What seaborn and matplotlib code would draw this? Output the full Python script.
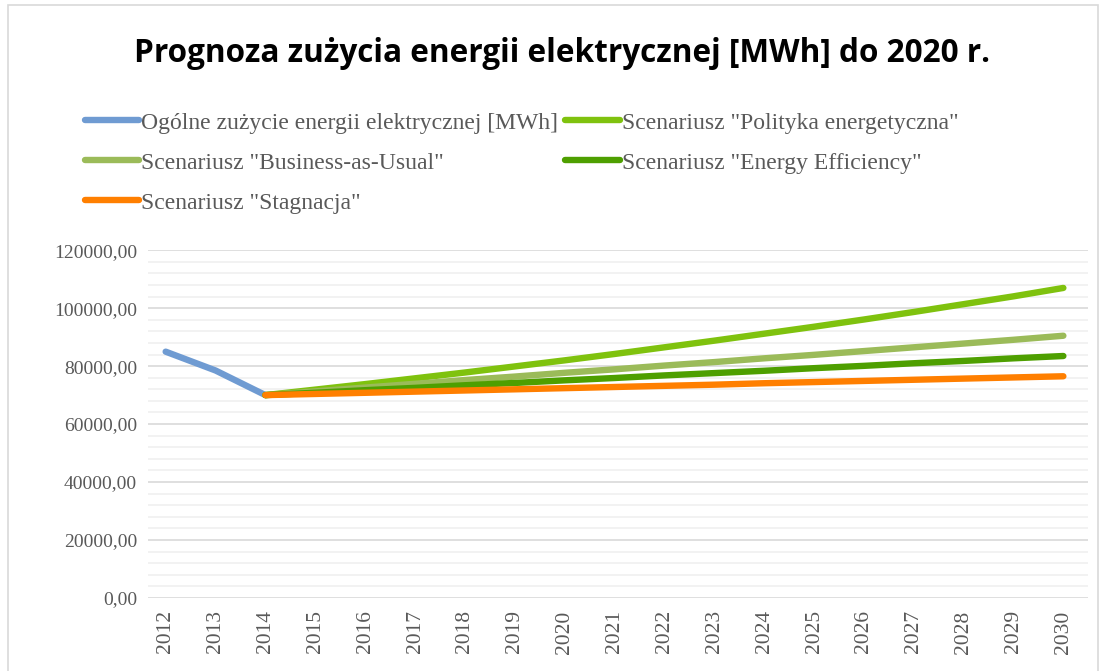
import numpy as np
import pandas as pd
import seaborn as sns
import matplotlib.pyplot as plt
from matplotlib.patches import Rectangle
from matplotlib.ticker import MultipleLocator, FuncFormatter

years = list(range(2012, 2031))
hist_years = [2012, 2013, 2014]
hist_vals = [85000, 78500, 70000]
scen_years = list(range(2014, 2031))
polityka = [70000, 71900, 73800, 75800, 77800, 79900, 82000, 84200, 86500,
            88800, 91200, 93600, 96100, 98700, 101400, 104100, 107000]
bau = [70000, 71300, 72600, 73900, 75200, 76400, 77700, 78900, 80200,
       81400, 82700, 83900, 85200, 86500, 87800, 89100, 90500]
efficiency = [70000, 70800, 71700, 72500, 73400, 74200, 75100, 75900, 76800,
              77600, 78400, 79300, 80100, 81000, 81800, 82700, 83500]
stagnacja = [70000, 70400, 70800, 71200, 71600, 72000, 72400, 72800, 73200,
             73600, 74100, 74500, 74900, 75300, 75700, 76100, 76500]

names = ['Ogólne zużycie energii elektrycznej [MWh]',
         'Scenariusz "Polityka energetyczna"',
         'Scenariusz "Business-as-Usual"',
         'Scenariusz "Energy Efficiency"',
         'Scenariusz "Stagnacja"']
colors = ['#6f9bd2', '#7fc20e', '#9bbb59', '#4e9f00', '#ff7f00']

rows = []
for y, v in zip(hist_years, hist_vals):
    rows.append((names[0], y, v))
for name, vals in zip(names[1:], [polityka, bau, efficiency, stagnacja]):
    for y, v in zip(scen_years, vals):
        rows.append((name, y, v))
df = pd.DataFrame(rows, columns=['seria', 'rok', 'mwh'])
df['x'] = df['rok'] - 2012

sns.set_style('white')
plt.rcParams['font.family'] = ['Liberation Serif', 'DejaVu Serif']

fig = plt.figure(figsize=(11.06, 6.71), dpi=100)
ax = fig.add_axes([0.134, 0.109, 0.850, 0.518])

sns.lineplot(data=df, x='x', y='mwh', hue='seria', hue_order=names,
             palette=dict(zip(names, colors)), linewidth=4.6, ax=ax,
             legend=False)
for ln in ax.get_lines():
    ln.set_solid_capstyle('round')

ax.set_xlim(-0.35, 18.5)
ax.set_ylim(0, 120000)
ax.yaxis.set_major_locator(MultipleLocator(20000))
ax.yaxis.set_minor_locator(MultipleLocator(4000))
ax.yaxis.set_major_formatter(FuncFormatter(lambda v, p: f'{v:.2f}'.replace('.', ',')))
ax.set_xticks(range(len(years)))
ax.set_xticklabels([str(y) for y in years], rotation=90)
ax.grid(True, which='major', axis='y', color='#d9d9d9', linewidth=1.2)
ax.grid(True, which='minor', axis='y', color='#f0f0f0', linewidth=1.2)
ax.set_axisbelow(True)
for s in ax.spines.values():
    s.set_visible(False)
ax.tick_params(axis='both', which='both', length=0, colors='#595959')
ax.tick_params(axis='y', pad=8, labelsize=14)
ax.tick_params(axis='x', pad=9, labelsize=15.5)
ax.set_xlabel('')
ax.set_ylabel('')

fig.text(0.508, 0.92, 'Prognoza zużycia energii elektrycznej [MWh] do 2020 r.',
         ha='center', va='center', fontsize=22.7, fontweight='bold',
         family=['Open Sans', 'DejaVu Sans'], color='black')

handles = [plt.Line2D([], [], color=c, linewidth=4.6, solid_capstyle='round') for c in colors]
order = [0, 2, 4, 1, 3]
leg = fig.legend([handles[i] for i in order], [names[i] for i in order],
                 ncol=2, loc='upper left', bbox_to_anchor=(0.068, 0.847),
                 frameon=False, fontsize=17, handlelength=2.3, handletextpad=0.1,
                 columnspacing=0.3, labelspacing=0.78, borderaxespad=0)
for t in leg.get_texts():
    t.set_color('#595959')

fig.patches.append(Rectangle((0.007, -0.01), 0.986, 1.003, transform=fig.transFigure,
                             fill=False, edgecolor='#d9d9d9', linewidth=1.2))

fig.savefig('out.png', dpi=100)
